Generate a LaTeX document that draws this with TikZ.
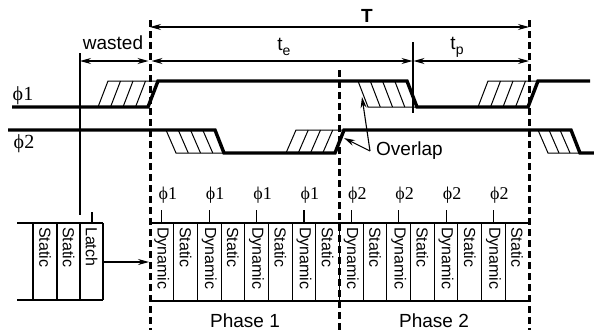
\documentclass[tikz,border=0pt]{standalone}
\usepackage{fontspec}
\setmainfont{Liberation Sans}
\newfontfamily\tms{Liberation Serif}
\usetikzlibrary{arrows.meta}
\newcommand\myrise[5]{% xa xb lo hi n
  \draw[hatch] ({#2+10},#4) -- ({#1+10},#4) -- (#1,#3) -- (#2,#3);
  \pgfmathtruncatemacro\nn{#5-1}
  \foreach \k in {1,...,\nn}{\draw[hatch] ({#1+\k*(#2-#1)/#5},#3) -- ({#1+\k*(#2-#1)/#5+10},#4);}
}
\newcommand\myfall[5]{% xa xb hi lo n
  \draw[hatch] (#2,#3) -- (#1,#3) -- ({#1+10},#4) -- ({#2+10},#4);
  \pgfmathtruncatemacro\nn{#5-1}
  \foreach \k in {1,...,\nn}{\draw[hatch] ({#1+\k*(#2-#1)/#5},#3) -- ({#1+\k*(#2-#1)/#5+10},#4);}
}
\begin{document}
\begin{tikzpicture}[x=1pt,y=-1pt,
  wave/.style={line width=3.4pt, line join=miter},
  thinl/.style={line width=1.1pt},
  hatch/.style={line width=1pt},
  dashv/.style={line width=3pt, dash pattern=on 7pt off 4pt},
  tip/.style={-{Stealth[length=11pt,width=6pt]}},
  dim/.style={line width=1.1pt, {Stealth[length=11pt,width=6pt]}-{Stealth[length=11pt,width=6pt]}},
  lbl/.style={font=\fontsize{19}{22}\selectfont, inner sep=0pt},
  cell/.style={font=\fontsize{16}{18}\selectfont, rotate=-90, inner sep=0pt, anchor=west},
  phl/.style={font=\tms\fontsize{20}{22}\selectfont, inner sep=0pt},
]
\useasboundingbox (0,0) rectangle (594,330);
\fill[white] (0,0) rectangle (594,330);

% dashed reference lines
\coordinate (d1t) at (150,20);  \coordinate (d1b) at (150,330);
\coordinate (d2t) at (339,70);  \coordinate (d2b) at (339,330);
\coordinate (d3t) at (529,20);  \coordinate (d3b) at (529,330);
\draw[dashv] (d1t) -- (d1b);
\draw[dashv] (d2t) -- (d2b);
\draw[dashv] (d3t) -- (d3b);

% thin markers
\coordinate (wt) at (80,53);   \coordinate (wb) at (80,215);
\coordinate (pt) at (413,42);  \coordinate (pb) at (413,113);
\draw[thinl] (wt) -- (wb);
\draw[thinl] (pt) -- (pb);

% dimension arrows
\coordinate (Ta) at (150,27); \coordinate (Tb) at (529,27);
\coordinate (wa) at (80,61);  \coordinate (wz) at (150,61);
\coordinate (ea) at (150,61); \coordinate (ez) at (413,61);
\coordinate (pa) at (413,61); \coordinate (pz) at (529,61);
\draw[dim] (Ta) -- (Tb);
\draw[dim] (wa) -- ([xshift=-1.5pt]wz);
\draw[dim] ([xshift=1.5pt]ea) -- ([xshift=-0.5pt]ez);
\draw[dim] ([xshift=0.5pt]pa) -- (pz);
\node[lbl,font=\fontsize{19}{22}\selectfont\bfseries] (T) at (367,16) {T};
\node[lbl] (wasted) at (113,43) {wasted};
\node[lbl] (te) at (284,47) {t\raisebox{-5pt}{\fontsize{14}{16}\selectfont e}};
\node[lbl] (tp) at (457,47) {t\raisebox{-5pt}{\fontsize{14}{16}\selectfont p}};

% signal names
\node[phl] (p1) at (23,96) {ϕ1};
\node[phl] (p2) at (24,144) {ϕ2};

% hatches
\myrise{98}{148}{107}{81}{4}
\myfall{358}{407}{81}{107}{4}
\myrise{478}{528}{107}{81}{4}
\myfall{166}{215}{130}{153}{4}
\myrise{286}{335}{153}{130}{4}
\myfall{538}{571}{130}{153}{3}

% waveforms
\draw[wave] (12,107) -- (148,107) -- (158,81) -- (407,81) -- (417,107) -- (528,107) -- (538,81) -- (590,81);
\draw[wave] (8,130) -- (215,130) -- (224,153) -- (335,153) -- (344,130) -- (571,130) -- (580,153) -- (594,153);

% overlap
\node[lbl,anchor=west] (ov) at (376,151) {Overlap};
\coordinate (ovs) at (370,151);
\coordinate (ov1) at (362,97);
\coordinate (ov2) at (344,138);
\draw[thinl,tip] (ovs) -- (ov1);
\draw[thinl,tip] (ovs) -- (ov2);

% left partial chain
\draw[thinl] (17,223) -- (103,223);
\draw[thinl] (17,300) -- (103,300);
\foreach \x in {33,57,80,103} \draw[thinl] (\x,223) -- (\x,300);
\node[cell] (ls1) at (45,227) {Static};
\node[cell] (ls2) at (68.5,227) {Static};
\node[cell] (ll) at (91.5,227) {Latch};
\draw[thinl] (92,212) -- (92,223);

% arrow into chain
\coordinate (aa) at (103,262); \coordinate (ab) at (149,262);
\draw[thinl,tip] (aa) -- (ab);

% main chain
\draw[thinl] (150,223) -- (529,223);
\draw[thinl] (150,301) -- (529,301);
\foreach \i in {1,...,15} \draw[thinl] ({150+\i*23.6875},223) -- ({150+\i*23.6875},301);
\foreach \i in {0,...,15}{
  \pgfmathtruncatemacro\odd{mod(\i,2)}
  \ifnum\odd=0
    \node[cell] (c\i) at ({150+(\i+0.5)*23.6875},227) {Dynamic};
  \else
    \node[cell] (c\i) at ({150+(\i+0.5)*23.6875},227) {Static};
  \fi
}
\foreach \i in {0,2,4,6}{
  \draw[thinl] ({150+(\i+0.5)*23.6875},210) -- ({150+(\i+0.5)*23.6875},223);
  \node[phl,font=\tms\fontsize{18}{20}\selectfont] (q\i) at ({150+(\i+0.5)*23.6875+6},195) {ϕ1};
}
\foreach \i in {8,10,12,14}{
  \draw[thinl] ({150+(\i+0.5)*23.6875},210) -- ({150+(\i+0.5)*23.6875},223);
  \node[phl,font=\tms\fontsize{18}{20}\selectfont] (q\i) at ({150+(\i+0.5)*23.6875+6},195) {ϕ2};
}

\node[lbl,anchor=base] (ph1) at (245,327) {Phase 1};
\node[lbl,anchor=base] (ph2) at (434,327) {Phase 2};
\end{tikzpicture}
\end{document}
